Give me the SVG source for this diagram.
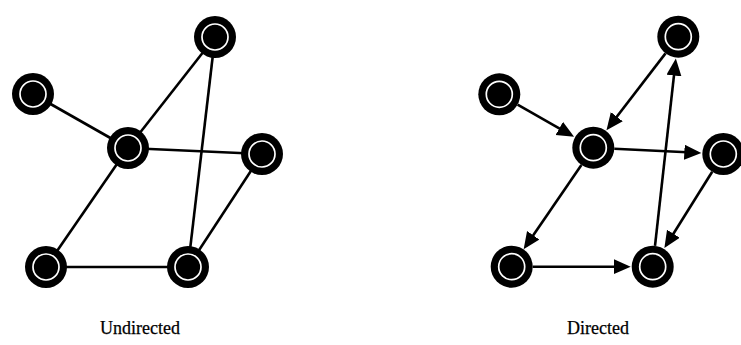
<svg xmlns="http://www.w3.org/2000/svg" width="741" height="345" viewBox="0 0 741 345">
<style>
.edge{stroke:#000;stroke-width:2.6;fill:none}
.arr{stroke:#000;stroke-width:2.6;fill:none;marker-end:url(#ah)}
.outer{fill:#000}
.ring{fill:none;stroke:#fff;stroke-width:1.7}
.lbl{font-family:"Liberation Serif","Times New Roman",serif;font-size:18px;fill:#000;text-anchor:middle;stroke:#000;stroke-width:0.25}
</style>
<defs>
<marker id="ah" markerUnits="userSpaceOnUse" markerWidth="18" markerHeight="16" refX="13" refY="7.5" orient="auto">
<path d="M0,0 L17,7.5 L0,15 z" fill="#000"/>
</marker>
</defs>
<rect width="741" height="345" fill="#fff"/>
<g id="connectors">
<line class="edge" x1="33" y1="94" x2="128" y2="148"/>
<line class="edge" x1="128" y1="148" x2="215" y2="37"/>
<line class="edge" x1="128" y1="148" x2="262" y2="154"/>
<line class="edge" x1="128" y1="148" x2="46" y2="267"/>
<line class="edge" x1="46" y1="267" x2="188" y2="267"/>
<line class="edge" x1="188" y1="267" x2="215" y2="37"/>
<line class="edge" x1="262" y1="154" x2="188" y2="267"/>
<line class="arr" x1="517.6" y1="104.7" x2="570.6" y2="134.8"/>
<line class="arr" x1="665.5" y1="53.4" x2="608.9" y2="127.0"/>
<line class="arr" x1="614.3" y1="148.7" x2="697.3" y2="152.8"/>
<line class="arr" x1="581.4" y1="165.0" x2="525.9" y2="246.0"/>
<line class="arr" x1="532.7" y1="266.7" x2="626.7" y2="266.7"/>
<line class="arr" x1="655.0" y1="245.8" x2="675.4" y2="62.6"/>
<line class="arr" x1="712.2" y1="171.8" x2="666.5" y2="244.7"/>
</g>
<g id="u-top"><circle class="outer" cx="215" cy="37" r="21"/><circle class="ring" cx="215" cy="37" r="13"/></g>
<g id="u-left"><circle class="outer" cx="33" cy="94" r="21"/><circle class="ring" cx="33" cy="94" r="13"/></g>
<g id="u-center"><circle class="outer" cx="128" cy="148" r="21"/><circle class="ring" cx="128" cy="148" r="13"/></g>
<g id="u-right"><circle class="outer" cx="262" cy="154" r="21"/><circle class="ring" cx="262" cy="154" r="13"/></g>
<g id="u-botleft"><circle class="outer" cx="46" cy="267" r="21"/><circle class="ring" cx="46" cy="267" r="13"/></g>
<g id="u-botright"><circle class="outer" cx="188" cy="267" r="21"/><circle class="ring" cx="188" cy="267" r="13"/></g>
<g id="d-top"><circle class="outer" cx="678.3" cy="36.7" r="21"/><circle class="ring" cx="678.3" cy="36.7" r="13"/></g>
<g id="d-left"><circle class="outer" cx="499.3" cy="94.3" r="21"/><circle class="ring" cx="499.3" cy="94.3" r="13"/></g>
<g id="d-center"><circle class="outer" cx="593.3" cy="147.7" r="21"/><circle class="ring" cx="593.3" cy="147.7" r="13"/></g>
<g id="d-right"><circle class="outer" cx="723.3" cy="154" r="21"/><circle class="ring" cx="723.3" cy="154" r="13"/></g>
<g id="d-botleft"><circle class="outer" cx="511.7" cy="266.7" r="21"/><circle class="ring" cx="511.7" cy="266.7" r="13"/></g>
<g id="d-botright"><circle class="outer" cx="652.7" cy="266.7" r="21"/><circle class="ring" cx="652.7" cy="266.7" r="13"/></g>
<text class="lbl" x="140" y="334">Undirected</text>
<text class="lbl" x="598" y="334">Directed</text>
</svg>
